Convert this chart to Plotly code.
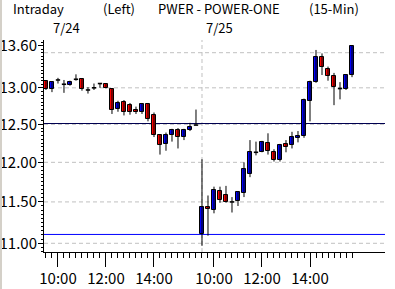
import plotly.graph_objects as go

# ---------------- data ----------------
dates = ["7/24", "7/25"]
session_times = ["09:30", "09:45", "10:00", "10:15", "10:30", "10:45", "11:00", "11:15",
                 "11:30", "11:45", "12:00", "12:15", "12:30", "12:45", "13:00", "13:15",
                 "13:30", "13:45", "14:00", "14:15", "14:30", "14:45", "15:00", "15:15",
                 "15:30", "15:45"]
label_times = ["10:00", "12:00", "14:00"]

open_ = [13.09, 12.99, 13.11, 13.05, 13.04, 13.12, 13.12, 12.97, 13.00, 13.06, 13.06, 12.99, 12.71,
         12.81, 12.76, 12.70, 12.66, 12.78, 12.62, 12.36, 12.24, 12.36, 12.43, 12.33, 12.43, 12.49,
         11.11, 11.44, 11.40, 11.64, 11.58, 11.50, 11.51, 11.61, 11.85, 12.13, 12.14, 12.25, 12.13,
         12.03, 12.24, 12.22, 12.32, 12.35, 12.82, 13.08, 13.44, 13.27, 13.16, 12.99, 12.98, 13.18]
high = [13.10, 13.08, 13.14, 13.11, 13.10, 13.19, 13.13, 13.01, 13.06, 13.06, 13.06, 12.99, 12.82,
        12.83, 12.79, 12.74, 12.79, 12.79, 12.66, 12.37, 12.39, 12.44, 12.45, 12.44, 12.52, 12.70,
        12.04, 11.58, 11.69, 11.69, 11.70, 11.56, 11.63, 12.00, 12.29, 12.27, 12.28, 12.38, 12.17,
        12.24, 12.29, 12.40, 12.41, 12.85, 13.10, 13.54, 13.49, 13.30, 13.21, 13.08, 13.18, 13.60]
low = [12.97, 12.94, 13.06, 12.93, 13.03, 13.10, 12.96, 12.92, 12.97, 13.00, 12.99, 12.64, 12.67,
       12.62, 12.63, 12.64, 12.64, 12.54, 12.33, 12.10, 12.15, 12.27, 12.18, 12.29, 12.41, 12.49,
       10.97, 11.09, 11.36, 11.49, 11.49, 11.37, 11.45, 11.56, 11.81, 12.09, 12.13, 12.10, 12.01,
       12.01, 12.13, 12.18, 12.26, 12.32, 12.54, 13.07, 13.18, 13.10, 12.76, 12.84, 12.97, 13.15]
close = [12.98, 13.08, 13.11, 13.05, 13.08, 13.12, 12.98, 12.97, 13.00, 13.06, 13.00, 12.70, 12.79,
         12.67, 12.66, 12.66, 12.78, 12.57, 12.36, 12.23, 12.36, 12.43, 12.33, 12.43, 12.46, 12.49,
         11.44, 11.41, 11.65, 11.53, 11.50, 11.50, 11.62, 11.91, 12.13, 12.13, 12.26, 12.15, 12.03,
         12.22, 12.20, 12.33, 12.35, 12.83, 13.08, 13.44, 13.29, 13.16, 13.01, 12.99, 13.18, 13.60]

y_label_values = [11.00, 11.50, 12.00, 12.50, 13.00, 13.60]
grid_values = [11.0, 11.5, 12.0, 12.5, 13.0, 13.5]
ref_upper = 12.511
ref_lower = 11.105

# ---------------- derived ----------------
n = len(open_)
xs = list(range(n))
times = session_times * len(dates)
day_len = len(session_times)

UP = "#0000ff"
DOWN = "#ff0000"
BODY_W = 0.72

wick_x, wick_y = [], []
for i in xs:
    wick_x += [i, i, None]
    wick_y += [low[i], high[i], None]

bx, bbase, bh, bcol = [], [], [], []
dx, dy = [], []
for i in xs:
    o, c = open_[i], close[i]
    if abs(c - o) < 1e-9:
        dx += [i - BODY_W / 2, i + BODY_W / 2, None]
        dy += [o, o, None]
    else:
        bx.append(i)
        bbase.append(min(o, c))
        bh.append(abs(c - o))
        bcol.append(UP if c > o else DOWN)

fig = go.Figure()
fig.add_trace(go.Scatter(x=wick_x, y=wick_y, mode="lines",
                         line=dict(color="black", width=1), hoverinfo="skip", showlegend=False))
fig.add_trace(go.Bar(x=bx, y=bh, base=bbase, width=BODY_W,
                     marker=dict(color=bcol, line=dict(color="black", width=1)),
                     showlegend=False))
fig.add_trace(go.Scatter(x=dx, y=dy, mode="lines",
                         line=dict(color="black", width=1.6), hoverinfo="skip", showlegend=False))

shapes = []
for g in grid_values:
    shapes.append(dict(type="line", xref="paper", x0=0, x1=1, yref="y", y0=g, y1=g,
                       line=dict(color="#c0c0c0", width=1, dash="4px,3px"), layer="below"))
shapes.append(dict(type="line", xref="x", x0=day_len, x1=day_len, yref="paper", y0=0, y1=1,
                   line=dict(color="#c0c0c0", width=1, dash="4px,3px"), layer="below"))
shapes.append(dict(type="line", xref="paper", x0=0, x1=1, yref="y", y0=ref_upper, y1=ref_upper,
                   line=dict(color="#000050", width=1), layer="below"))
shapes.append(dict(type="line", xref="paper", x0=0, x1=1, yref="y", y0=ref_lower, y1=ref_lower,
                   line=dict(color="#0000ff", width=1), layer="below"))
# left window border
shapes.append(dict(type="rect", xref="paper", yref="paper", x0=-44 / 341, x1=-42 / 341,
                   y0=-37 / 212, y1=252 / 212, fillcolor="#d4d0c8", line=dict(width=0)))

FONT = "Noto Sans CJK JP"
tfont = dict(family=FONT, size=15, color="black")
hfont = dict(family=FONT, size=13, color="black")

annotations = []
title_parts = [("Intraday", -32), ("(Left)", 58), ("PWER - POWER-ONE", 113), ("(15-Min)", 264)]
for txt, px in title_parts:
    annotations.append(dict(text=txt, xref="paper", yref="paper", x=px / 341, y=(252 - 8) / 212,
                            xanchor="left", yanchor="middle", showarrow=False, font=hfont,
                            borderpad=0))
for d, offset in zip(dates, [8, 161]):
    annotations.append(dict(text=d, xref="paper", yref="paper", x=offset / 341, y=(252 - 27.5) / 212,
                            xanchor="left", yanchor="middle", showarrow=False, font=hfont,
                            borderpad=0))

xtick_vals = [i for i in xs if times[i] in label_times]
xtick_text = [times[i] for i in xtick_vals]

minor_y = [round(10.90 + 0.05 * k, 2) for k in range(57)]

fig.update_layout(
    width=395, height=289,
    margin=dict(l=44, r=10, t=40, b=37),
    paper_bgcolor="white", plot_bgcolor="white",
    shapes=shapes, annotations=annotations,
    bargap=0, barmode="overlay",
    font=tfont,
    xaxis=dict(range=[-0.33, 56.5], showgrid=False, zeroline=False, automargin=False,
               showline=True, linecolor="black", linewidth=1,
               ticks="outside", tickmode="array", tickvals=xtick_vals, ticktext=xtick_text,
               ticklen=14, tickwidth=1, tickcolor="black", tickfont=tfont,
               ticklabelstandoff=-1,
               minor=dict(tickmode="array", tickvals=xs, ticks="outside", ticklen=5,
                          tickcolor="black", tickwidth=1, showgrid=False)),
    yaxis=dict(type="log", range=[1.03733, 1.13626], showgrid=False, zeroline=False,
               automargin=False,
               showline=True, linecolor="black", linewidth=1,
               ticks="outside", tickmode="array", tickvals=y_label_values,
               ticktext=["%.2f" % v for v in y_label_values],
               ticklen=5, tickwidth=1, tickcolor="black", tickfont=tfont,
               ticklabelstandoff=-2,
               minor=dict(tickmode="array", tickvals=minor_y, ticks="outside", ticklen=2,
                          tickcolor="black", tickwidth=1, showgrid=False)),
)

fig.write_html("out.html")
